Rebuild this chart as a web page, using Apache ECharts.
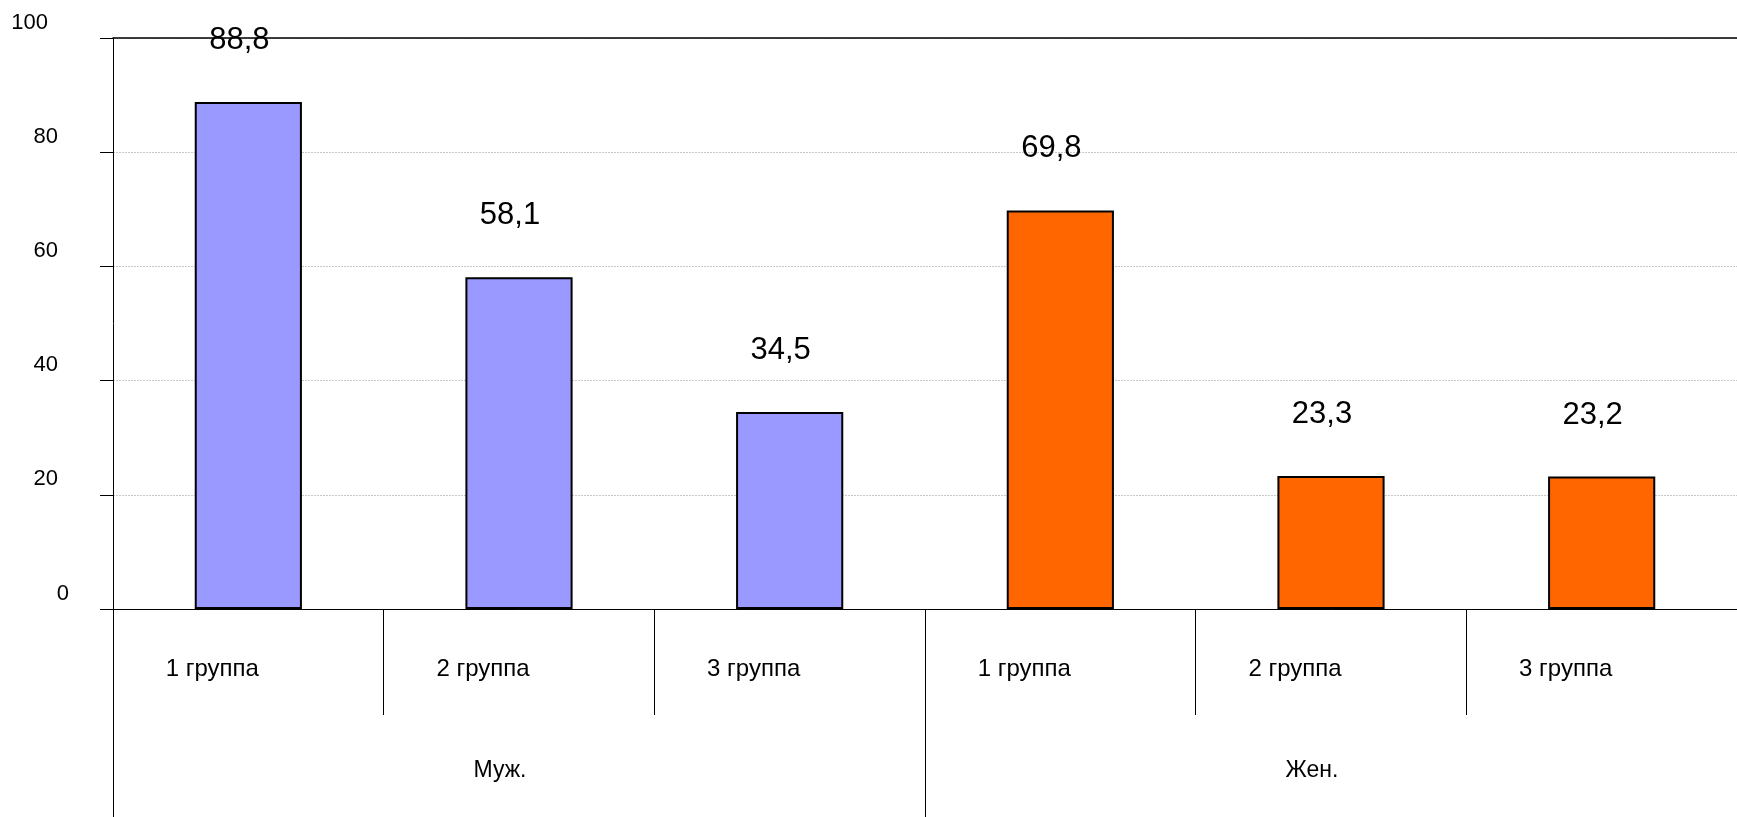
<!DOCTYPE html>
<html>
<head>
<meta charset="utf-8">
<script src="https://cdn.jsdelivr.net/npm/echarts@6/dist/echarts.min.js"></script>
<style>
  html, body { margin: 0; padding: 0; background: #fff; }
  #chart { width: 1737px; height: 817px; }
</style>
</head>
<body>
<div id="chart"></div>
<script>
// данные
var groups = ['1 группа', '2 группа', '3 группа', '1 группа', '2 группа', '3 группа'];
var sexes = ['Муж.', 'Жен.'];
var values = [88.8, 58.1, 34.5, 69.8, 23.3, 23.2];
var barColors = ['#9999FF', '#9999FF', '#9999FF', '#FF6600', '#FF6600', '#FF6600'];
var yTicks = [0, 20, 40, 60, 80, 100];

var font = 'Liberation Sans, Arial, sans-serif';
var chart = echarts.init(document.getElementById('chart'));

var option = {
    backgroundColor: '#fff',
    animation: false,
    grid: { left: 113, right: 0, top: 38, bottom: 208 },
    xAxis: [
        {
            type: 'category',
            data: groups,
            position: 'bottom',
            axisLine: { show: true, lineStyle: { color: '#000', width: 1 } },
            axisTick: { show: true, interval: 0, length: 106, lineStyle: { color: '#000' } },
            axisLabel: {
                interval: 0, margin: 48, color: '#000', fontFamily: font, fontSize: 24,
                padding: [0, 72, 0, 0]
            }
        },
        {
            type: 'category',
            data: sexes,
            position: 'bottom',
            axisLine: { show: false },
            axisTick: { show: true, interval: 0, length: 208, lineStyle: { color: '#000' } },
            axisLabel: {
                interval: 0, margin: 150, color: '#000', fontFamily: font, fontSize: 23,
                padding: [0, 38, 0, 0]
            }
        },
        {
            type: 'category',
            data: groups,
            position: 'top',
            axisLine: { show: true, lineStyle: { color: '#000', width: 1.5 } },
            axisTick: { show: false },
            axisLabel: { show: false }
        }
    ],
    yAxis: {
        type: 'value',
        min: yTicks[0],
        max: yTicks[yTicks.length - 1],
        interval: 20,
        axisLine: { show: true, lineStyle: { color: '#000' } },
        axisTick: { show: true, length: 13, lineStyle: { color: '#000' } },
        splitLine: { show: true, lineStyle: { color: '#c8c8c8', type: [2, 1] } },
        axisLabel: {
            margin: 44,
            align: 'right',
            verticalAlign: 'middle',
            padding: [0, 0, 31, 0],
            color: '#000',
            fontFamily: font,
            fontSize: 22,
            formatter: function (v) {
                var s = String(v);
                return '{l' + s.length + '|' + s + '}';
            },
            rich: {
                l1: { fontSize: 22, fontFamily: font, color: '#000', padding: [0, 0, 0, 0] },
                l2: { fontSize: 22, fontFamily: font, color: '#000', padding: [0, 11, 0, 0] },
                l3: { fontSize: 22, fontFamily: font, color: '#000', padding: [0, 21, 0, 0] }
            }
        }
    },
    series: [{
        type: 'bar',
        xAxisIndex: 0,
        barWidth: '39.6%',
        data: values.map(function (v, i) {
            return { value: v, itemStyle: { color: barColors[i] } };
        }),
        itemStyle: { borderColor: '#000', borderWidth: 2 },
        label: {
            show: true,
            position: 'top',
            distance: 46,
            offset: [-9, 0],
            color: '#000',
            fontFamily: font,
            fontSize: 31,
            formatter: function (p) { return String(p.value).replace('.', ','); }
        }
    }]
};

chart.setOption(option);
</script>
</body>
</html>
